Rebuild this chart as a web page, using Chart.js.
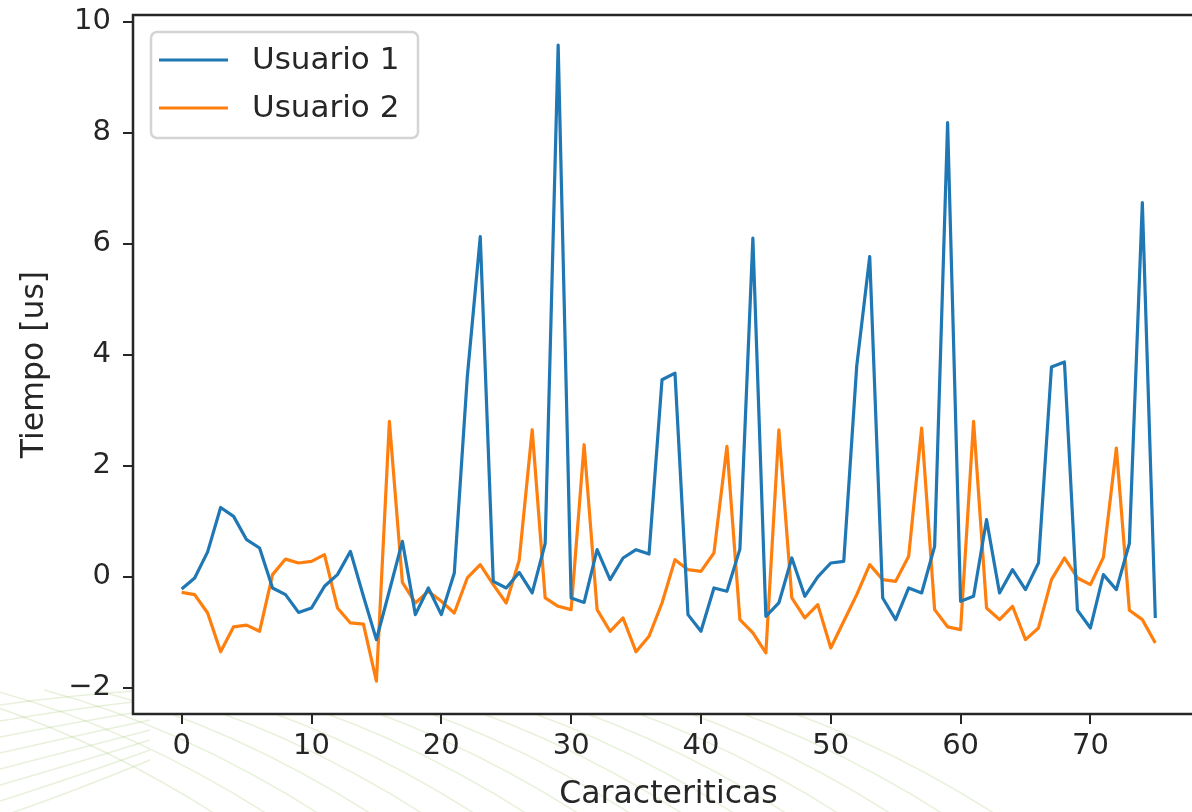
<!DOCTYPE html>
<html>
<head>
<meta charset="utf-8">
<script src="https://cdn.jsdelivr.net/npm/chart.js@4.4.0/dist/chart.umd.min.js"></script>
<style>
  html, body { margin: 0; padding: 0; background: #fff; overflow: hidden; }
  #wrap { width: 1210px; height: 814px; }
</style>
</head>
<body>
<div id="wrap"><canvas id="chart" width="1210" height="814"></canvas></div>
<script>
// Tiempo por caracteristica
const usuario1 = [
  -0.22, -0.02, 0.45, 1.25, 1.09, 0.67, 0.52, -0.20, -0.32, -0.64,
  -0.56, -0.17, 0.04, 0.46, -0.35, -1.13, -0.25, 0.64, -0.68, -0.20,
  -0.68, 0.07, 3.60, 6.13, -0.08, -0.20, 0.08, -0.29, 0.60, 9.58,
  -0.38, -0.46, 0.49, -0.05, 0.34, 0.49, 0.41, 3.55, 3.67, -0.68,
  -0.98, -0.20, -0.26, 0.50, 6.10, -0.71, -0.47, 0.34, -0.35, 0.00,
  0.25, 0.28, 3.80, 5.77, -0.38, -0.77, -0.20, -0.29, 0.55, 8.18,
  -0.44, -0.35, 1.03, -0.29, 0.13, -0.23, 0.25, 3.78, 3.87, -0.60,
  -0.92, 0.04, -0.23, 0.60, 6.74, -0.74
];
const usuario2 = [
  -0.28, -0.32, -0.65, -1.35, -0.90, -0.87, -0.98, 0.04, 0.32, 0.25,
  0.28, 0.40, -0.56, -0.83, -0.85, -1.88, 2.80, -0.10, -0.47, -0.26,
  -0.44, -0.65, -0.02, 0.22, -0.14, -0.47, 0.30, 2.65, -0.38, -0.53,
  -0.59, 2.38, -0.59, -0.98, -0.74, -1.35, -1.07, -0.47, 0.31, 0.13,
  0.10, 0.43, 2.35, -0.77, -1.01, -1.37, 2.65, -0.38, -0.74, -0.50,
  -1.28, -0.80, -0.32, 0.22, -0.05, -0.08, 0.37, 2.68, -0.59, -0.90,
  -0.95, 2.80, -0.56, -0.77, -0.53, -1.13, -0.92, -0.05, 0.34, -0.02,
  -0.14, 0.35, 2.32, -0.60, -0.77, -1.19
];
const seriesNames = ['Usuario 1', 'Usuario 2'];
const seriesColors = ['#1f77b4', '#ff7f0e'];
const xTicks = [0, 10, 20, 30, 40, 50, 60, 70];
const yTicks = [-2, 0, 2, 4, 6, 8, 10];

const textColor = '#262626';
const fontFamily = "'DejaVu Sans', sans-serif";

// faint background pattern outside the axes + white axes face
const background = {
  id: 'background',
  beforeDraw(chart) {
    const ctx = chart.ctx, a = chart.chartArea;
    ctx.save();
    ctx.strokeStyle = 'rgba(150, 190, 90, 0.22)';
    ctx.lineWidth = 1.5;
    for (let k = 0; k < 16; k++) {
      const x0 = -60 + k * 52;
      ctx.beginPath();
      ctx.moveTo(x0, 690);
      ctx.quadraticCurveTo(x0 + 150, 730, x0 + 300, 830);
      ctx.stroke();
    }
    for (let k = 0; k < 8; k++) {
      ctx.beginPath();
      ctx.moveTo(0, 705 + k * 16);
      ctx.quadraticCurveTo(70, 695 + k * 14, 150, 690 + k * 10);
      ctx.stroke();
    }
    ctx.fillStyle = '#fff';
    ctx.fillRect(a.left, a.top, a.right - a.left, a.bottom - a.top);
    ctx.restore();
  }
};

// axes frame and legend box inside the plot
const frameAndLegend = {
  id: 'frameAndLegend',
  afterDraw(chart) {
    const ctx = chart.ctx, a = chart.chartArea;
    ctx.save();
    ctx.strokeStyle = textColor;
    ctx.lineWidth = 2.5;
    ctx.strokeRect(a.left, a.top, a.right - a.left, a.bottom - a.top);

    const bx = 151, by = 32, bw = 267, bh = 106, r = 6;
    ctx.beginPath();
    ctx.roundRect(bx, by, bw, bh, r);
    ctx.fillStyle = 'rgba(255,255,255,0.85)';
    ctx.fill();
    ctx.strokeStyle = '#d4d4d4';
    ctx.lineWidth = 2.5;
    ctx.stroke();

    ctx.font = '31px ' + fontFamily;
    ctx.textBaseline = 'middle';
    chart.data.datasets.forEach((ds, i) => {
      const y = 60 + i * 48;
      ctx.strokeStyle = ds.borderColor;
      ctx.lineWidth = 3.2;
      ctx.beginPath();
      ctx.moveTo(159, y);
      ctx.lineTo(228, y);
      ctx.stroke();
      ctx.fillStyle = textColor;
      ctx.fillText(ds.label, 252, y + 1);
    });
    ctx.restore();
  }
};

const toPoints = vals => vals.map((v, i) => ({ x: i, y: v }));

new Chart(document.getElementById('chart'), {
  type: 'line',
  data: {
    datasets: [
      { label: seriesNames[0], data: toPoints(usuario1), borderColor: seriesColors[0], borderWidth: 3.2 },
      { label: seriesNames[1], data: toPoints(usuario2), borderColor: seriesColors[1], borderWidth: 3.2 }
    ]
  },
  options: {
    responsive: false,
    animation: false,
    devicePixelRatio: 1,
    layout: { padding: { left: 0, top: 15, right: 6, bottom: 0 } },
    elements: {
      line: { tension: 0, borderJoinStyle: 'round' },
      point: { radius: 0 }
    },
    plugins: {
      legend: { display: false },
      tooltip: { enabled: false }
    },
    scales: {
      x: {
        type: 'linear',
        min: -3.75,
        max: 78.75,
        afterBuildTicks: s => { s.ticks = xTicks.map(v => ({ value: v })); },
        afterFit: s => { s.height = 100; s.paddingLeft = 0; s.paddingRight = 0; },
        border: { display: false },
        grid: { drawOnChartArea: false, drawTicks: true, tickLength: 10, color: textColor, lineWidth: 2 },
        ticks: { color: textColor, font: { family: fontFamily, size: 29 }, padding: 5, maxRotation: 0 },
        title: { display: true, text: 'Caracteriticas', color: textColor,
                 font: { family: fontFamily, size: 31.5 }, padding: { top: 0, bottom: 0 } }
      },
      y: {
        type: 'linear',
        min: -2.47,
        max: 10.12,
        afterBuildTicks: s => { s.ticks = yTicks.map(v => ({ value: v })); },
        afterFit: s => { s.width = 133; s.paddingTop = 0; s.paddingBottom = 0; },
        border: { display: false },
        grid: { drawOnChartArea: false, drawTicks: true, tickLength: 10, color: textColor, lineWidth: 2 },
        ticks: {
          color: textColor, font: { family: fontFamily, size: 29 }, padding: 12,
          callback: v => v < 0 ? '\u2212' + Math.abs(v) : String(v)
        },
        title: { display: true, text: 'Tiempo [us]', color: textColor,
                 font: { family: fontFamily, size: 31.5 }, padding: { top: 16, bottom: 0 } }
      }
    }
  },
  plugins: [background, frameAndLegend]
});
</script>
</body>
</html>
